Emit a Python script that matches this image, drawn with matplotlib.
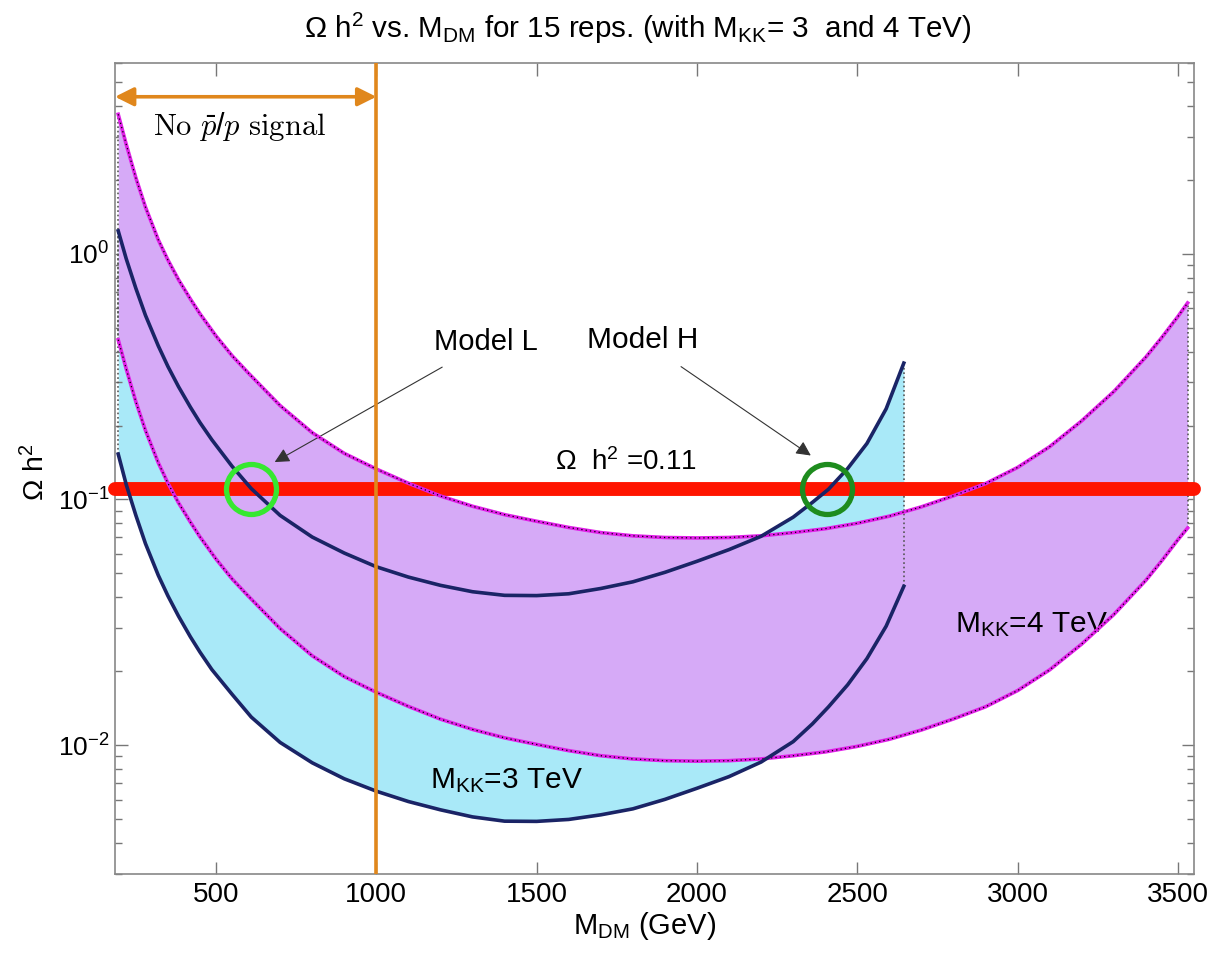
import matplotlib
matplotlib.use('Agg')
import matplotlib.pyplot as plt

plt.rcParams['font.family'] = ['Liberation Sans', 'DejaVu Sans']
plt.rcParams['mathtext.fontset'] = 'custom'
plt.rcParams['mathtext.rm'] = 'Liberation Sans'
plt.rcParams['mathtext.it'] = 'Liberation Sans:italic'
plt.rcParams['mathtext.bf'] = 'Liberation Sans:bold'
plt.rcParams['mathtext.default'] = 'regular'
plt.rcParams['axes.unicode_minus'] = False

# ---- data ----
# M_KK = 3 TeV band (cyan)
m_3tev = [195, 220, 250, 280, 320, 350, 383, 420, 450, 487, 550, 610, 700, 800, 900,
          1000, 1100, 1200, 1300, 1400, 1500, 1600, 1700, 1800, 1900, 2000, 2100,
          2200, 2300, 2360, 2410, 2470, 2530, 2590, 2645]
omega_3tev_hi = [1.24, 0.955, 0.724, 0.562, 0.422, 0.348, 0.288, 0.2377, 0.2056, 0.175,
                 0.1365, 0.1107, 0.0861, 0.0703, 0.0605, 0.0532, 0.0483, 0.0447, 0.0421,
                 0.0407, 0.0406, 0.0413, 0.0434, 0.0462, 0.0505, 0.056, 0.0625, 0.0708,
                 0.0847, 0.0973, 0.110, 0.1337, 0.169, 0.234, 0.359]
omega_3tev_lo = [0.153, 0.115, 0.0862, 0.0661, 0.0491, 0.0405, 0.0335, 0.0276, 0.0239,
                 0.0203, 0.0161, 0.0130, 0.01025, 0.00847, 0.00729, 0.00649, 0.00589,
                 0.00545, 0.0051, 0.0049, 0.00489, 0.00498, 0.0052, 0.0055, 0.00601,
                 0.00667, 0.00744, 0.00853, 0.01033, 0.0122, 0.0143, 0.0176, 0.0225,
                 0.0305, 0.0443]

# M_KK = 4 TeV band (purple)
m_4tev = [195, 220, 250, 280, 320, 350, 383, 420, 450, 500, 550, 600, 700, 800, 900,
          1000, 1100, 1200, 1300, 1400, 1500, 1600, 1700, 1800, 1900, 2000, 2100,
          2200, 2300, 2400, 2500, 2600, 2700, 2800, 2900, 3000, 3100, 3200, 3300,
          3400, 3450, 3500, 3530]
omega_4tev_hi = [3.70, 2.79, 2.04, 1.55, 1.14, 0.944, 0.785, 0.655, 0.570, 0.463, 0.385,
                 0.328, 0.241, 0.187, 0.154, 0.133, 0.1164, 0.1033, 0.0938, 0.0867,
                 0.0815, 0.0769, 0.0733, 0.0711, 0.0700, 0.0697, 0.0700, 0.0711, 0.0733,
                 0.0760, 0.0800, 0.0855, 0.0933, 0.1035, 0.116, 0.135, 0.164, 0.209,
                 0.275, 0.380, 0.457, 0.556, 0.631]
omega_4tev_lo = [0.447, 0.340, 0.250, 0.191, 0.141, 0.1165, 0.0969, 0.0809, 0.0704,
                 0.0572, 0.0475, 0.0405, 0.0298, 0.0231, 0.0190, 0.0164, 0.01437,
                 0.01275, 0.01158, 0.0107, 0.01006, 0.00949, 0.00905, 0.00878, 0.00864,
                 0.0086, 0.00864, 0.00878, 0.00905, 0.00938, 0.00988, 0.01056, 0.01152,
                 0.01278, 0.01432, 0.01667, 0.02025, 0.0258, 0.034, 0.0469, 0.0564,
                 0.0686, 0.0765]

omega_obs = 0.11
model_L = (610, 0.11)
model_H = (2407, 0.11)
no_signal_limit = 1000
x_ticks = [500, 1000, 1500, 2000, 2500, 3000, 3500]

# colours
cyan = '#a9e9f8'
purple = '#d6aaf7'
navy = '#1a2466'
magenta = '#e020e8'
red = '#ff1500'
orange = '#e0871c'

fig = plt.figure(figsize=(12.11, 9.56), dpi=100)
ax = fig.add_axes([115/1211, 1 - 873.5/956, 1079/1211, 810.8/956])
ax.set_yscale('log')
ax.set_xlim(185, 3550)
ax.set_ylim(3e-3, 6)

# bands
ax.fill_between(m_3tev, omega_3tev_lo, omega_3tev_hi, color=cyan, lw=0, zorder=1)
ax.fill_between(m_4tev, omega_4tev_lo, omega_4tev_hi, color=purple, lw=0, zorder=2)

# dotted edges of the bands
for xs, lo, hi in [(m_3tev, omega_3tev_lo, omega_3tev_hi), (m_4tev, omega_4tev_lo, omega_4tev_hi)]:
    ax.plot([xs[0], xs[0]], [lo[0], hi[0]], ls=':', color='#555555', lw=1.2, zorder=3)
    ax.plot([xs[-1], xs[-1]], [lo[-1], hi[-1]], ls=':', color='#555555', lw=1.2, zorder=3)

# red band for the measured relic density
ax.plot([185, 3550], [omega_obs, omega_obs], color=red, lw=10, solid_capstyle='round',
        clip_on=False, zorder=4)

# boundary curves
for ys in [omega_4tev_hi, omega_4tev_lo]:
    ax.plot(m_4tev, ys, color=magenta, lw=2.6, zorder=5)
    ax.plot(m_4tev, ys, color='black', lw=0.9, ls=(0, (1, 2.5)), zorder=5)
for ys in [omega_3tev_hi, omega_3tev_lo]:
    ax.plot(m_3tev, ys, color=navy, lw=2.6, zorder=6)

# orange limit line and arrow
ax.axvline(no_signal_limit, color=orange, lw=2.6, zorder=7)
ax.annotate('', xy=(185, 4.36), xytext=(no_signal_limit, 4.36),
            arrowprops=dict(arrowstyle='<|-|>', color=orange, lw=2.6,
                            mutation_scale=28, shrinkA=0, shrinkB=0), zorder=7)
ax.text(574, 3.3, r'$\mathrm{No}\ \bar{\mathit{p}}/\mathit{p}\ \mathrm{signal}$', fontsize=22,
        math_fontfamily='cm', ha='center', va='center')

# benchmark models
ax.plot(*model_L, 'o', ms=36, mfc='none', mec='#36e830', mew=3.8, zorder=8)
ax.plot(*model_H, 'o', ms=36, mfc='none', mec='#1e8c1e', mew=3.8, zorder=8)
ax.annotate('Model L', xy=(683, 0.142), xytext=(1343, 0.437), fontsize=21,
            ha='center', va='center',
            arrowprops=dict(arrowstyle='-|>', color='#333333', lw=0.8,
                            mutation_scale=22, shrinkA=12, shrinkB=0))
ax.annotate('Model H', xy=(2355, 0.151), xytext=(1831, 0.444), fontsize=21.5,
            ha='center', va='center',
            arrowprops=dict(arrowstyle='-|>', color='#333333', lw=0.8,
                            mutation_scale=22, shrinkA=12, shrinkB=0))

ax.text(1779, 0.1416, r'$\Omega\ \ h^2$ =0.11', fontsize=20, ha='center', va='center')
ax.text(1166, 0.00667, r'M$_{KK}$=3 TeV', fontsize=21.5, ha='left', va='baseline')
ax.text(2805, 0.0287, r'M$_{KK}$=4 TeV', fontsize=21.5, ha='left', va='baseline')

# axes styling
for s in ax.spines.values():
    s.set_color('#888888')
    s.set_linewidth(1.2)
ax.set_xticks(x_ticks)
ax.set_xticklabels([str(t) for t in x_ticks])
ax.tick_params(axis='both', which='both', direction='in', top=True, right=True,
               color='#777777', width=1)
ax.tick_params(axis='both', which='major', length=9)
ax.tick_params(axis='both', which='minor', length=5)
ax.tick_params(axis='x', which='minor', bottom=False, top=False)
ax.tick_params(axis='x', labelsize=20, pad=6)
ax.tick_params(axis='y', labelsize=19, pad=4)

fig.text(638/1211, 1 - 38/956,
         r'$\Omega$ h$^2$ vs. M$_{DM}$ for 15 reps. (with M$_{KK}$= 3  and 4 TeV)',
         fontsize=21.3, ha='center', va='baseline')
fig.text(645/1211, 1 - 934/956, r'M$_{DM}$ (GeV)', fontsize=21, ha='center', va='baseline')
fig.text(36/1211, 1 - 472/956, r'$\Omega$ h$^2$', fontsize=20.5, rotation=90,
         ha='center', va='center')

fig.savefig('out.png', dpi=100)
